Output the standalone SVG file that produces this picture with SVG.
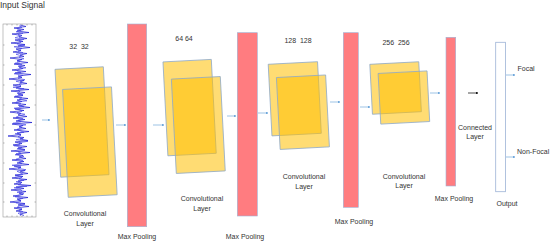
<svg xmlns="http://www.w3.org/2000/svg" width="550" height="241" viewBox="0 0 550 241">
<defs>
<style>
text{font-family:"Liberation Sans",Arial,sans-serif;font-size:7px;fill:#333;}
.c{text-anchor:middle;}
.fm{fill:#FFC000;fill-opacity:0.55;stroke:#8EA9C8;stroke-width:0.8;}
.pool{fill:#FF7C80;stroke:#9DB3D6;stroke-width:0.6;}
.arr{stroke:#5B9BD5;stroke-width:0.6;fill:none;marker-end:url(#ah);}
.tick{stroke:#888;stroke-width:0.6;}
</style>
<marker id="ah" viewBox="0 0 6 6" refX="5" refY="3" markerWidth="4" markerHeight="4" orient="auto"><path d="M0,0.5 L6,3 L0,5.5 z" fill="#5B9BD5"/></marker>
<marker id="ahk" viewBox="0 0 6 6" refX="5" refY="3" markerWidth="4" markerHeight="4" orient="auto"><path d="M0,0.5 L6,3 L0,5.5 z" fill="#000"/></marker>
</defs>
<rect width="550" height="241" fill="#fff"/>

<g id="input">
<text x="0" y="8" style="font-size:8.5px">Input Signal</text>
<rect x="3" y="24" width="33" height="193" fill="#fff" stroke="#999" stroke-width="0.6"/>
<g class="tick">
<line x1="7" y1="24" x2="7" y2="25.5"/><line x1="12" y1="24" x2="12" y2="25.5"/><line x1="17" y1="24" x2="17" y2="25.5"/><line x1="22" y1="24" x2="22" y2="25.5"/><line x1="27" y1="24" x2="27" y2="25.5"/><line x1="32" y1="24" x2="32" y2="25.5"/>
<line x1="7" y1="217" x2="7" y2="215.5"/><line x1="12" y1="217" x2="12" y2="215.5"/><line x1="17" y1="217" x2="17" y2="215.5"/><line x1="22" y1="217" x2="22" y2="215.5"/><line x1="27" y1="217" x2="27" y2="215.5"/><line x1="32" y1="217" x2="32" y2="215.5"/>
<line x1="3" y1="45" x2="4.5" y2="45"/><line x1="3" y1="65" x2="4.5" y2="65"/><line x1="3" y1="85" x2="4.5" y2="85"/><line x1="3" y1="105" x2="4.5" y2="105"/><line x1="3" y1="125" x2="4.5" y2="125"/><line x1="3" y1="143" x2="4.5" y2="143"/><line x1="3" y1="163" x2="4.5" y2="163"/><line x1="3" y1="183" x2="4.5" y2="183"/><line x1="3" y1="202" x2="4.5" y2="202"/>
<line x1="36" y1="45" x2="34.5" y2="45"/><line x1="36" y1="65" x2="34.5" y2="65"/><line x1="36" y1="85" x2="34.5" y2="85"/><line x1="36" y1="105" x2="34.5" y2="105"/><line x1="36" y1="125" x2="34.5" y2="125"/><line x1="36" y1="143" x2="34.5" y2="143"/><line x1="36" y1="163" x2="34.5" y2="163"/><line x1="36" y1="183" x2="34.5" y2="183"/><line x1="36" y1="202" x2="34.5" y2="202"/>
</g>
<polyline fill="none" stroke="#1a1ad0" stroke-width="0.7" points="20,25 26,26.5 14,28 24,29.5 17,31 29,32.5 12,34 22,35.5 19,37 27,38.5 15,40 23,41.5 11,43 25,44.5 18,46 30,47.5 16,49 21,50.5 13,52 27,53.5 20,55 24,56.5 10,58 22,59.5 17,61 28,62.5 14,64 25,65.5 19,67 23,68.5 12,70 26,71.5 15,73 31,74.5 18,76 22,77.5 9,79 24,80.5 20,82 27,83.5 13,85 21,86.5 16,88 29,89.5 11,91 25,92.5 18,94 23,95.5 14,97 28,98.5 17,100 22,101.5 12,103 26,104.5 19,106 30,107.5 15,109 24,110.5 10,112 21,113.5 18,115 27,116.5 13,118 25,119.5 16,121 32,122.5 12,124 23,125.5 19,127 26,128.5 14,130 29,131.5 17,133 21,134.5 8,136 24,137.5 20,139 28,140.5 15,142 22,143.5 13,145 27,146.5 18,148 25,149.5 11,151 30,152.5 16,154 23,155.5 19,157 26,158.5 12,160 24,161.5 17,163 29,164.5 14,166 21,167.5 9,169 25,170.5 20,172 28,173.5 15,175 23,176.5 12,178 27,179.5 18,181 22,182.5 14,184 31,185.5 16,187 24,188.5 11,190 26,191.5 19,193 23,194.5 13,196 28,197.5 17,199 21,200.5 10,202 25,203.5 18,205 29,206.5 14,208 22,209.5 16,211 27,212.5 20,214 24,215.5"/>
<polyline fill="none" stroke="#3b3be8" stroke-width="0.6" points="19,25.75 22,27.25 17,28.75 21,30.25 16,31.75 23,33.25 18,34.75 20,36.25 15,37.75 24,39.25 19,40.75 21,42.25 17,43.75 25,45.25 14,46.75 22,48.25 20,49.75 18,51.25 23,52.75 16,54.25 21,55.75 19,57.25 24,58.75 17,60.25 20,61.75 15,63.25 22,64.75 18,66.25 26,67.75 19,69.25 17,70.75 21,72.25 14,73.75 23,75.25 20,76.75 18,78.25 25,79.75 16,81.25 22,82.75 19,84.25 21,85.75 13,87.25 24,88.75 18,90.25 20,91.75 17,93.25 23,94.75 15,96.25 22,97.75 19,99.25 27,100.75 16,102.25 21,103.75 18,105.25 24,106.75 14,108.25 20,109.75 22,111.25 17,112.75 25,114.25 19,115.75 16,117.25 23,118.75 18,120.25 21,121.75 13,123.25 26,124.75 19,126.25 22,127.75 17,129.25 20,130.75 24,132.25 15,133.75 21,135.25 18,136.75 23,138.25 16,139.75 28,141.25 19,142.75 20,144.25 14,145.75 22,147.25 17,148.75 25,150.25 18,151.75 21,153.25 15,154.75 24,156.25 20,157.75 16,159.25 23,160.75 19,162.25 22,163.75 12,165.25 21,166.75 18,168.25 26,169.75 17,171.25 20,172.75 23,174.25 15,175.75 22,177.25 19,178.75 24,180.25 16,181.75 21,183.25 18,184.75 27,186.25 14,187.75 20,189.25 22,190.75 17,192.25 24,193.75 19,195.25 15,196.75 23,198.25 18,199.75 21,201.25 16,202.75 25,204.25 20,205.75 17,207.25 22,208.75 19,210.25 23,211.75 18,213.25 21,214.75 20,216"/>
</g>

<g id="conv1">
<rect class="fm" x="57.8" y="68" width="48.4" height="108" transform="rotate(-3 82 122)"/>
<rect class="fm" x="65.35" y="88.1" width="49" height="108" transform="rotate(-3 89.85 142.1)"/>
<text class="c" x="79" y="48.5" xml:space="preserve">32  32</text>
<text class="c" x="85" y="215.5">Convolutional</text>
<text class="c" x="85" y="225.5">Layer</text>
</g>

<g id="pool1">
<rect class="pool" x="127.3" y="24" width="19.4" height="202.7"/>
<text class="c" x="137" y="239">Max Pooling</text>
</g>

<g id="conv2">
<rect class="fm" x="165.4" y="60.6" width="48.4" height="94" transform="rotate(-3 189.6 107.6)"/>
<rect class="fm" x="173.8" y="77.75" width="49" height="94.5" transform="rotate(-3 198.3 125)"/>
<text class="c" x="184" y="40.5">64 64</text>
<text class="c" x="202" y="200.5">Convolutional</text>
<text class="c" x="202" y="210.5">Layer</text>
</g>

<g id="pool2">
<rect class="pool" x="237.3" y="32.7" width="20" height="183.3"/>
<text class="c" x="245" y="239">Max Pooling</text>
</g>

<g id="conv3">
<rect class="fm" x="270.05" y="62.95" width="49.4" height="71.7" transform="rotate(-3 294.75 98.8)"/>
<rect class="fm" x="278.25" y="76.2" width="49.3" height="72" transform="rotate(-3 302.9 112.2)"/>
<text class="c" x="298" y="42.5" xml:space="preserve">128  128</text>
<text class="c" x="304" y="179">Convolutional</text>
<text class="c" x="304" y="188.5">Layer</text>
</g>

<g id="pool3">
<rect class="pool" x="343.3" y="32.7" width="15" height="174.6"/>
<text class="c" x="354" y="223.5">Max Pooling</text>
</g>

<g id="conv4">
<rect class="fm" x="371.1" y="63" width="49" height="50" transform="rotate(-3 395.6 88)"/>
<rect class="fm" x="379.4" y="72.15" width="49" height="50.7" transform="rotate(-3 403.9 97.5)"/>
<text class="c" x="396" y="44.5" xml:space="preserve">256  256</text>
<text class="c" x="404" y="178.5">Convolutional</text>
<text class="c" x="404" y="187.5">Layer</text>
</g>

<g id="pool4">
<rect class="pool" x="446" y="37.3" width="9.7" height="148.7"/>
<text class="c" x="454" y="200.5">Max Pooling</text>
</g>

<g id="connected">
<text class="c" x="475" y="129.5">Connected</text>
<text class="c" x="475" y="138.5">Layer</text>
</g>

<g id="output">
<rect x="495.7" y="42.3" width="9.8" height="149.4" fill="#fff" stroke="#9DB3D6" stroke-width="0.8"/>
<text class="c" x="507" y="205.5">Output</text>
<text x="517.5" y="71">Focal</text>
<text x="517" y="153.5">Non-Focal</text>
</g>

<g id="connectors">
<line class="arr" x1="42" y1="120" x2="50" y2="120"/>
<line class="arr" x1="116" y1="125" x2="126" y2="125"/>
<line class="arr" x1="153" y1="125" x2="164" y2="125"/>
<line class="arr" x1="227" y1="116" x2="236" y2="116"/>
<line class="arr" x1="258" y1="113" x2="268" y2="113"/>
<line class="arr" x1="330" y1="102" x2="340" y2="102"/>
<line class="arr" x1="360" y1="107" x2="370" y2="107"/>
<line class="arr" x1="430" y1="93" x2="440" y2="93"/>
<line x1="468" y1="93" x2="478" y2="93" stroke="#000" stroke-width="0.7" marker-end="url(#ahk)"/>
<line class="arr" x1="506" y1="75" x2="515" y2="75"/>
<line class="arr" x1="506" y1="157" x2="515" y2="157"/>
</g>
</svg>
